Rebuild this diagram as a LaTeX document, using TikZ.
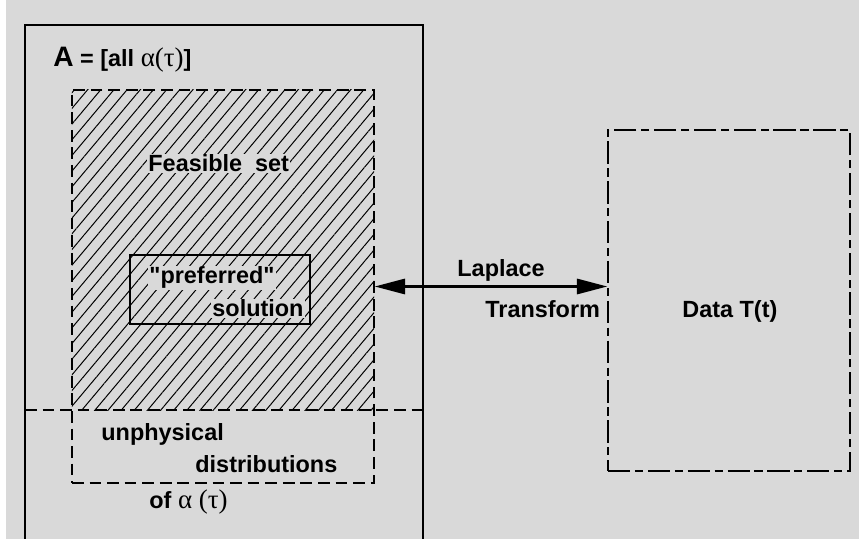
\documentclass[tikz,border=0pt]{standalone}
\usepackage{fontspec}
\setmainfont{Liberation Sans}
\newfontfamily\grk{Liberation Serif}
\usetikzlibrary{arrows.meta,patterns.meta,positioning}
\definecolor{paper}{HTML}{D9D9D9}
\tikzset{
  lbl/.style={font=\fontsize{20}{24}\selectfont\bfseries, inner sep=1pt, anchor=base west},
  lblbg/.style={lbl, fill=paper},
  dashbox/.style={draw=black, line width=1.2pt, dash pattern=on 10pt off 5pt, inner sep=0pt},
  longdash/.style={draw=black, line width=1.2pt, dash pattern=on 19pt off 4pt on 7pt off 4pt, inner sep=0pt},
  hatch/.style={pattern={Lines[angle=50,distance=8.6pt,line width=0.85pt]}, inner sep=0pt},
  solidbox/.style={draw=black, line width=1.4pt, inner sep=0pt},
  twoway/.style={{Triangle[length=26pt,width=13pt]}-{Triangle[length=26pt,width=13pt]}, line width=2.2pt},
}
\newcommand{\grkpart}[1]{{\grk\mdseries\fontsize{23}{26}\selectfont #1}}
\begin{document}
\begin{tikzpicture}[x=0.03cm, y=-0.03cm]
  \useasboundingbox (0,0) rectangle (859,539);
  \fill[paper] (0,0) rectangle (859,539);
  \fill[white] (0,0) rectangle (6,539);
  \draw[line width=1.4pt] (25,539) -- (25,25) -- (423,25) -- (423,539);
  \node[hatch, minimum width=9.06cm, minimum height=9.6cm] (feas) at (223,250) {};
  \node[dashbox, minimum width=9.06cm, minimum height=11.79cm] (region) at (223,286.5) {};
  \coordinate (cutl) at (25,410);
  \coordinate (cutr) at (423,410);
  \draw[dashbox] (cutl) -- (cutr);
  \node[solidbox, minimum width=5.4cm, minimum height=2.07cm] (pref) at (220,289.5) {};
  \node[lbl] (atitle) at (52,67) {{\fontsize{24}{28}\selectfont A} = [all \grkpart{α(τ)}]};
  \node[lblbg] (feastxt) at (147,172) {Feasible\ \ set};
  \node[lblbg] (preftxt) at (148,284) {\textquotedbl preferred\textquotedbl};
  \node[lblbg] (soltxt) at (211,317) {solution};
  \node[lbl] (unphys) at (100,440) {unphysical};
  \node[lbl] (distr) at (194,472) {distributions};
  \node[lbl] (ofalpha) at (148,508) {of \grkpart{α (τ)}};
  \node[longdash, minimum width=7.26cm, minimum height=10.23cm] (data) at (729,300.5) {};
  \node[lbl] (datatxt) at (681,318) {Data T(t)};
  \node[lbl] (lap) at (456,277) {Laplace};
  \node[lbl] (trans) at (484,318) {Transform};
  \draw[twoway] (region.east) -- (region.east -| data.west);
\end{tikzpicture}
\end{document}
